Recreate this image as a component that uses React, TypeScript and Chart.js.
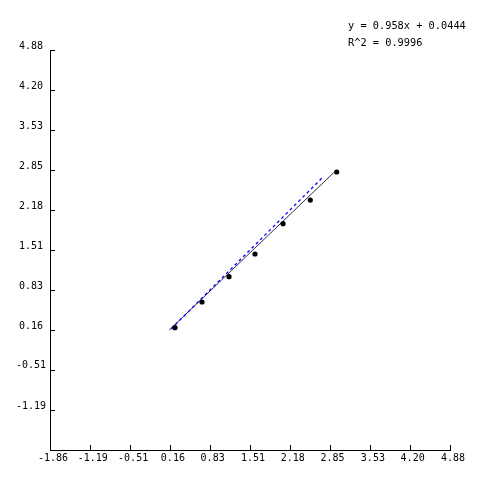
import React, { useEffect, useRef } from "react";
import { Chart, registerables } from "chart.js";

Chart.register(...registerables);

const tickLabels = ["-1.86", "-1.19", "-0.51", "0.16", "0.83", "1.51", "2.18", "2.85", "3.53", "4.20", "4.88"];
const yTickLabels = ["-1.19", "-0.51", "0.16", "0.83", "1.51", "2.18", "2.85", "3.53", "4.20", "4.88"];
const pointX = [0.246, 0.701, 1.156, 1.594, 2.066, 2.526, 2.971];
const pointY = [0.201, 0.634, 1.06, 1.443, 1.953, 2.352, 2.824];
const fitX = [0.15, 2.92];
const fitY = [0.162, 2.813];
const identityX = [0.18, 2.73];
const identityY = [0.18, 2.73];
const equationLines = ["y = 0.958x + 0.0444", "R^2 = 0.9996"];

const axisMin = -1.86;
const axisMax = 4.88;

const toXY = (xs: number[], ys: number[]) => xs.map((x, i) => ({ x, y: ys[i] }));

const inwardTicks = {
  id: "inwardTicks",
  afterDraw(chart: any) {
    const { ctx, chartArea } = chart;
    const xs = chart.scales.x;
    const ys = chart.scales.y;
    ctx.save();
    ctx.strokeStyle = "#000";
    ctx.lineWidth = 1;
    ctx.beginPath();
    tickLabels.forEach((t) => {
      const px = Math.round(xs.getPixelForValue(parseFloat(t))) + 0.5;
      ctx.moveTo(px, chartArea.bottom);
      ctx.lineTo(px, chartArea.bottom - 5);
    });
    yTickLabels.forEach((t) => {
      const py = Math.round(ys.getPixelForValue(parseFloat(t))) + 0.5;
      ctx.moveTo(chartArea.left, py);
      ctx.lineTo(chartArea.left + 5, py);
    });
    ctx.stroke();
    ctx.fillStyle = "#000";
    ctx.font = "10.3px 'DejaVu Sans Mono'";
    ctx.textAlign = "left";
    ctx.textBaseline = "middle";
    ctx.fillText(equationLines[0], 348, 26);
    ctx.fillText(equationLines[1], 348, 43);
    ctx.restore();
  },
};

export default function App() {
  const ref = useRef<HTMLCanvasElement | null>(null);
  useEffect(() => {
    if (!ref.current) return;
    const chart = new Chart(ref.current, {
      type: "scatter",
      data: {
        datasets: [
          {
            data: toXY(pointX, pointY),
            backgroundColor: "#000",
            borderColor: "#000",
            pointRadius: 2.6,
            pointBorderWidth: 0,
            showLine: false,
            order: 0,
          },
          {
            data: toXY(identityX, identityY),
            borderColor: "#0000ff",
            borderWidth: 1.3,
            borderDash: [3, 3],
            pointRadius: 0,
            showLine: true,
            order: 1,
          },
          {
            data: toXY(fitX, fitY),
            borderColor: "#2a2a55",
            borderWidth: 1,
            pointRadius: 0,
            showLine: true,
            order: 2,
          },
        ],
      },
      plugins: [inwardTicks],
      options: {
        responsive: false,
        animation: false,
        layout: { padding: { top: 50, right: 50, left: 0, bottom: 0 } },
        plugins: { legend: { display: false }, tooltip: { enabled: false } },
        scales: {
          x: {
            type: "linear",
            min: axisMin,
            max: axisMax,
            grid: { display: false, drawTicks: false },
            border: { display: true, color: "#000", width: 1 },
            afterBuildTicks: (s: any) => {
              s.ticks = tickLabels.map((t) => ({ value: parseFloat(t) }));
            },
            afterFit: (s: any) => {
              s.height = 50;
            },
            ticks: {
              autoSkip: false,
              maxRotation: 0,
              padding: 2,
              labelOffset: 3,
              color: "#000",
              font: { family: "'DejaVu Sans Mono'", size: 10 },
              callback: (v: any) => Number(v).toFixed(2),
            },
          },
          y: {
            type: "linear",
            min: axisMin,
            max: axisMax,
            grid: { display: false, drawTicks: false },
            border: { display: true, color: "#000", width: 1 },
            afterBuildTicks: (s: any) => {
              s.ticks = yTickLabels.map((t) => ({ value: parseFloat(t) }));
            },
            afterFit: (s: any) => {
              s.width = 50;
            },
            ticks: {
              autoSkip: false,
              padding: 4,
              crossAlign: "center",
              labelOffset: -4,
              color: "#000",
              font: { family: "'DejaVu Sans Mono'", size: 10 },
              callback: (v: any) => Number(v).toFixed(2),
            },
          },
        },
      },
    });
    return () => chart.destroy();
  }, []);
  return (
    <div style={{ position: "absolute", left: 0, top: 0, width: 500, height: 500, background: "#fff" }}>
      <canvas ref={ref} width={500} height={500} style={{ display: "block" }} />
    </div>
  );
}
